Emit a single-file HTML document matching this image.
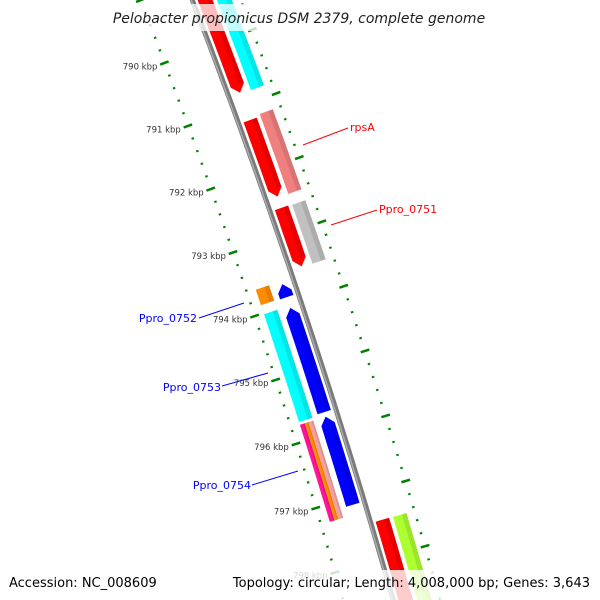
<!DOCTYPE html>
<html><head><meta charset="utf-8"><style>
html,body{margin:0;padding:0;background:#fff;overflow:hidden;}
svg{display:block;font-family:"DejaVu Sans","Liberation Sans",sans-serif;}
</style></head><body>
<svg id="map" width="600" height="600" viewBox="0 0 600 600">
<g id="ticks"></g>
<g id="genes"></g>
<g id="labels">
<line x1="303" y1="145" x2="348" y2="128" stroke="#ff0000" stroke-width="1"/>
<text x="350" y="131" font-size="11" fill="#ff0000">rpsA</text>
<line x1="331" y1="225" x2="377" y2="210" stroke="#ff0000" stroke-width="1"/>
<text x="379" y="213" font-size="11" fill="#ff0000">Ppro_0751</text>
<line x1="199" y1="318" x2="244" y2="303" stroke="#0000ff" stroke-width="1"/>
<text x="197" y="322" font-size="11" fill="#0000ff" text-anchor="end">Ppro_0752</text>
<line x1="222" y1="386" x2="268" y2="373" stroke="#0000ff" stroke-width="1"/>
<text x="221" y="391" font-size="11" fill="#0000ff" text-anchor="end">Ppro_0753</text>
<line x1="252" y1="485" x2="298" y2="471" stroke="#0000ff" stroke-width="1"/>
<text x="251" y="489" font-size="11" fill="#0000ff" text-anchor="end">Ppro_0754</text>
</g>
<rect x="0" y="4" width="600" height="27" fill="#fff" fill-opacity="0.75"/>
<text x="299" y="23" font-size="14" font-style="italic" fill="#222" text-anchor="middle">Pelobacter propionicus DSM 2379, complete genome</text>
<rect x="0" y="570" width="600" height="30" fill="#fff" fill-opacity="0.8"/>
<text x="9" y="587" font-size="13" fill="#000">Accession: NC_008609</text>
<text x="590" y="587" font-size="13" fill="#000" text-anchor="end">Topology: circular; Length: 4,008,000 bp; Genes: 3,643</text>
</svg>
<script>
// gene data
const geneNames  = ["g-top-fwd","rpsA","Ppro_0751","g-bottom-fwd","g-top-cog","rpsA-cog","Ppro_0751-cog","g-bottom-cog","g-small-rev","g-rev-2","g-rev-3","Ppro_0752","Ppro_0753","Ppro_0754-a","Ppro_0754-b","Ppro_0754-c"];
const geneStarts = [788800,791235,792610,797447,788800,791200,792620,797455,793680,794053,795745,793635,794017,795745,795745,795745];
const geneEnds   = [790806,792435,793525,798900,790825,792450,793540,798900,793885,795675,797110,793875,795703,797256,797256,797256];
const geneRows   = [1,1,1,1,2,2,2,2,-1,-1,-1,-2,-2,-3,-4,-5];
const geneStrand = [1,1,1,1,0,0,0,0,-1,-1,-1,0,0,0,0,0];
const geneColors = ["#ff0000","#ff0000","#ff0000","#ff0000","#00ffff","#f08080","#c0c0c0","#adff2f","#0000ff","#0000ff","#0000ff","#ff8c00","#00ffff","#ff1493","#ff8c00","#f4a0a0"];
// axis ticks
const tickStart = 788800, tickEnd = 799000, tickStep = 200;
const kbpLabels = ["790 kbp","791 kbp","792 kbp","793 kbp","794 kbp","795 kbp","796 kbp","797 kbp","798 kbp"];
const kbpValues = [790000,791000,792000,793000,794000,795000,796000,797000,798000];

const NS="http://www.w3.org/2000/svg";
const CX=-6280, CY=2502, RB=6939;
const rowRadii={1:[6944,6958],2:[6962,6976],"-1":[6920,6934],"-2":[6900,6914],"-3":[6900,6905],"-4":[6905,6909],"-5":[6909,6914]};
function ang(bp){return (-20.73+(bp-790000)/1000*0.5586)*Math.PI/180;}
function pt(r,a){return [CX+r*Math.cos(a),CY+r*Math.sin(a)];}
function arcPts(r,a1,a2,n){const p=[];for(let i=0;i<=n;i++){p.push(pt(r,a1+(a2-a1)*i/n));}return p;}
function poly(pts){return pts.map(p=>p[0].toFixed(1)+","+p[1].toFixed(1)).join(" ");}

const svg=document.getElementById("map");
// backbone
const bb=document.createElementNS(NS,"polyline");
bb.setAttribute("points",poly(arcPts(RB,ang(788700),ang(799000),40)));
bb.setAttribute("fill","none");bb.setAttribute("stroke","#7a7a7a");bb.setAttribute("stroke-width","5");


svg.insertBefore(bb,svg.firstChild);
const bb2=document.createElementNS(NS,"polyline");
bb2.setAttribute("points",poly(arcPts(RB-1,ang(788700),ang(799000),40)));
bb2.setAttribute("fill","none");bb2.setAttribute("stroke","#aaaaaa");bb2.setAttribute("stroke-width","1.5");


svg.insertBefore(bb2,bb.nextSibling);

// ticks
const tg=document.getElementById("ticks");
for(let bp=tickStart;bp<=tickEnd;bp+=tickStep){
  const a=ang(bp), major=(bp%1000===0);
  [[6891,major?[6886,6895]:[6889.5,6892]],[6984,major?[6980,6989]:[6983,6985.5]]].forEach(([rc,rr])=>{
    const p1=pt(rr[0],a),p2=pt(rr[1],a);
    const l=document.createElementNS(NS,"line");
    l.setAttribute("x1",p1[0]);l.setAttribute("y1",p1[1]);l.setAttribute("x2",p2[0]);l.setAttribute("y2",p2[1]);
    l.setAttribute("stroke","#008000");l.setAttribute("stroke-width",major?"2.5":"2");
    
    
    tg.appendChild(l);
  });
}
kbpLabels.forEach((lab,i)=>{
  const p=pt(6883,ang(kbpValues[i]));
  const t=document.createElementNS(NS,"text");
  t.setAttribute("x",p[0].toFixed(1));t.setAttribute("y",(p[1]+4).toFixed(1));
  t.setAttribute("font-size","8.5");t.setAttribute("fill","#333");t.setAttribute("text-anchor","end");
  t.textContent=lab;
  
  
  tg.appendChild(t);
});

// genes
const gg=document.getElementById("genes");
const AH=8/6950;
geneNames.forEach((nm,i)=>{
  const [r1,r2]=rowRadii[geneRows[i]];
  let a1=ang(geneStarts[i]), a2=ang(geneEnds[i]);
  const s=geneStrand[i], rm=(r1+r2)/2;
  let pts;
  if(s===1){
    const b=a2-AH;
    pts=arcPts(r1,a1,b,8).concat([pt(rm,a2)]).concat(arcPts(r2,b,a1,8));
  }else if(s===-1){
    const b=a1+AH;
    pts=[pt(rm,a1)].concat(arcPts(r1,b,a2,8)).concat(arcPts(r2,a2,b,8));
  }else{
    pts=arcPts(r1,a1,a2,8).concat(arcPts(r2,a2,a1,8));
  }
  const g=document.createElementNS(NS,"polygon");
  g.setAttribute("points",poly(pts));
  g.setAttribute("fill",geneColors[i]);
  
  
  gg.appendChild(g);
  const sh=document.createElementNS(NS,"polygon");
  const rs=r2-(r2-r1)*0.35, e2=(s===1)?a2-AH:a2, e1=(s===-1)?a1+AH:a1;
  sh.setAttribute("points",poly(arcPts(rs,e1,e2,6).concat(arcPts(r2,e2,e1,6))));
  sh.setAttribute("fill","#000");sh.setAttribute("fill-opacity","0.1");
  
  
  gg.appendChild(sh);
});
</script>
</body></html>
